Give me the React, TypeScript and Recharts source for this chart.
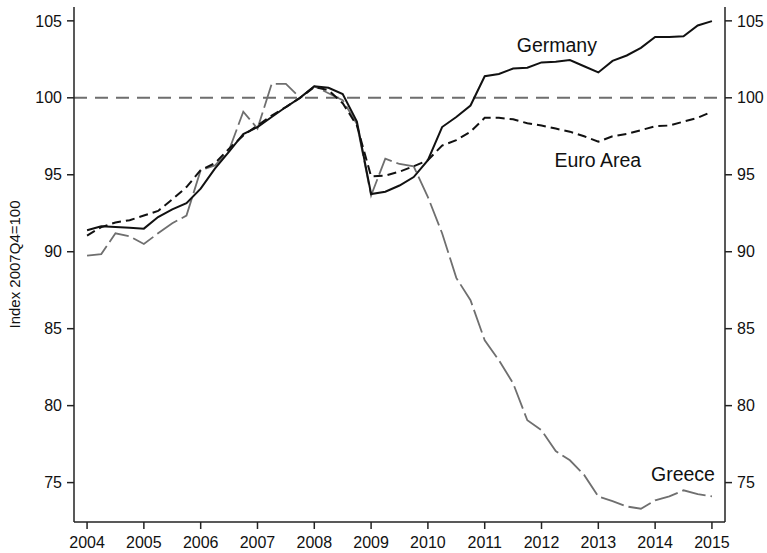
import React from 'react';
import { LineChart, Line, XAxis, YAxis, ReferenceLine, ReferenceDot } from 'recharts';

const quarters: number[] = [
  2004, 2004.25, 2004.5, 2004.75,
  2005, 2005.25, 2005.5, 2005.75,
  2006, 2006.25, 2006.5, 2006.75,
  2007, 2007.25, 2007.5, 2007.75,
  2008, 2008.25, 2008.5, 2008.75,
  2009, 2009.25, 2009.5, 2009.75,
  2010, 2010.25, 2010.5, 2010.75,
  2011, 2011.25, 2011.5, 2011.75,
  2012, 2012.25, 2012.5, 2012.75,
  2013, 2013.25, 2013.5, 2013.75,
  2014, 2014.25, 2014.5, 2014.75,
  2015,
];

const germany: number[] = [
  91.4, 91.65, 91.6, 91.55,
  91.5, 92.25, 92.75, 93.15,
  94.1, 95.4, 96.5, 97.65,
  98.1, 98.75, 99.4, 100.0,
  100.75, 100.65, 100.25, 98.45,
  93.75, 93.9, 94.3, 94.85,
  95.95, 98.1, 98.75, 99.5,
  101.4, 101.55, 101.9, 101.95,
  102.3, 102.35, 102.45, 102.05,
  101.65, 102.4, 102.75, 103.25,
  103.95, 103.95, 104.0, 104.7,
  104.98,
];

const euroArea: number[] = [
  91.05, 91.6, 91.9, 92.05,
  92.35, 92.65, 93.4, 94.2,
  95.3, 95.75, 96.7, 97.55,
  98.2, 98.85, 99.4, 100.0,
  100.7, 100.5, 99.65, 98.2,
  94.9, 94.95, 95.2, 95.55,
  95.95, 96.9, 97.25, 97.8,
  98.7, 98.7, 98.6, 98.35,
  98.2, 98.0, 97.8, 97.5,
  97.15, 97.5, 97.65, 97.9,
  98.15, 98.2, 98.45, 98.7,
  99.1,
];

const greece: number[] = [
  89.75, 89.85, 91.2, 91.0,
  90.5, 91.2, 91.85, 92.35,
  95.3, 95.6, 96.6, 99.1,
  98.0, 100.9, 100.9, 100.0,
  100.75, 100.3, 99.85, 98.3,
  93.65, 96.05, 95.7, 95.55,
  93.55, 91.2, 88.3, 86.85,
  84.25, 82.95, 81.45, 79.05,
  78.4, 77.05, 76.45, 75.5,
  74.1, 73.8, 73.45, 73.3,
  73.85, 74.1, 74.5, 74.25,
  74.1,
];

const xTicks: number[] = [2004, 2005, 2006, 2007, 2008, 2009, 2010, 2011, 2012, 2013, 2014, 2015];
const yTicks: number[] = [75, 80, 85, 90, 95, 100, 105];
const xDomain: [number, number] = [2003.77, 2015.23];
const yDomain: [number, number] = [72.44, 105.9];
const baseValue = 100;
const yLabel = 'Index 2007Q4=100';

const seriesLabels = [
  { text: 'Germany', x: 2012.27, y: 102.95 },
  { text: 'Euro Area', x: 2012.99, y: 95.51 },
  { text: 'Greece', x: 2014.49, y: 75.11 },
];

const data = quarters.map((t, i) => ({
  t,
  germany: germany[i],
  euroArea: euroArea[i],
  greece: greece[i],
}));

const FONT = 'Liberation Sans, Arial, sans-serif';
const AXIS = '#222';

const tickStyle = { fontSize: 16, fill: '#111', fontFamily: FONT };

const YLabel = (props: any) => {
  const vb = props.viewBox || {};
  const cy = 264.5;
  const x = 14;
  return (
    <text
      x={x}
      y={cy}
      transform={`rotate(-90, ${x}, ${cy})`}
      textAnchor="middle"
      dominantBaseline="central"
      fontSize={15}
      fontFamily={FONT}
      fill="#111"
    >
      {yLabel}
    </text>
  );
};

export default function App() {
  return (
    <div style={{ position: 'absolute', left: 0, top: 0, background: '#fff' }}>
      <LineChart
        width={767}
        height={553}
        data={data}
        margin={{ top: 7, right: 0, bottom: 0, left: 0 }}
      >
        <XAxis
          dataKey="t"
          type="number"
          domain={xDomain}
          ticks={xTicks}
          allowDataOverflow
          height={31}
          tick={tickStyle}
          tickSize={7}
          tickMargin={8}
          stroke={AXIS}
          strokeWidth={1.5}
          tickLine={{ stroke: AXIS, strokeWidth: 1.5 }}
        />
        <XAxis
          xAxisId="top"
          dataKey="t"
          type="number"
          orientation="top"
          domain={xDomain}
          allowDataOverflow
          height={0}
          tick={false}
          tickLine={false}
          stroke={AXIS}
          strokeWidth={1.5}
        />
        <YAxis
          type="number"
          domain={yDomain}
          ticks={yTicks}
          allowDataOverflow
          width={74}
          tick={tickStyle}
          tickSize={7}
          tickMargin={5}
          stroke={AXIS}
          strokeWidth={1.5}
          tickLine={{ stroke: AXIS, strokeWidth: 1.5 }}
          label={<YLabel />}
        />
        <YAxis
          yAxisId="right"
          orientation="right"
          type="number"
          domain={yDomain}
          ticks={yTicks}
          allowDataOverflow
          width={42}
          tick={{ ...tickStyle, textAnchor: 'start' }}
          tickSize={7}
          tickMargin={5}
          stroke={AXIS}
          strokeWidth={1.5}
          tickLine={{ stroke: AXIS, strokeWidth: 1.5 }}
        />
        <ReferenceLine y={baseValue} stroke="#6e6e6e" strokeWidth={2} strokeDasharray="13 8" />
        <Line
          dataKey="greece"
          stroke="#6f6f6f"
          strokeWidth={1.8}
          strokeDasharray="24 5"
          dot={false}
          isAnimationActive={false}
        />
        <Line
          dataKey="euroArea"
          stroke="#111"
          strokeWidth={2}
          strokeDasharray="9 5"
          dot={false}
          isAnimationActive={false}
        />
        <Line
          dataKey="germany"
          stroke="#111"
          strokeWidth={2}
          dot={false}
          isAnimationActive={false}
        />
        {seriesLabels.map((l) => (
          <ReferenceDot
            key={l.text}
            x={l.x}
            y={l.y}
            r={0}
            ifOverflow="visible"
            shape={(p: any) => (
              <text
                x={p.cx}
                y={p.cy}
                textAnchor="middle"
                fontSize={19.5}
                fontFamily={FONT}
                fill="#111"
              >
                {l.text}
              </text>
            )}
          />
        ))}
      </LineChart>
    </div>
  );
}
